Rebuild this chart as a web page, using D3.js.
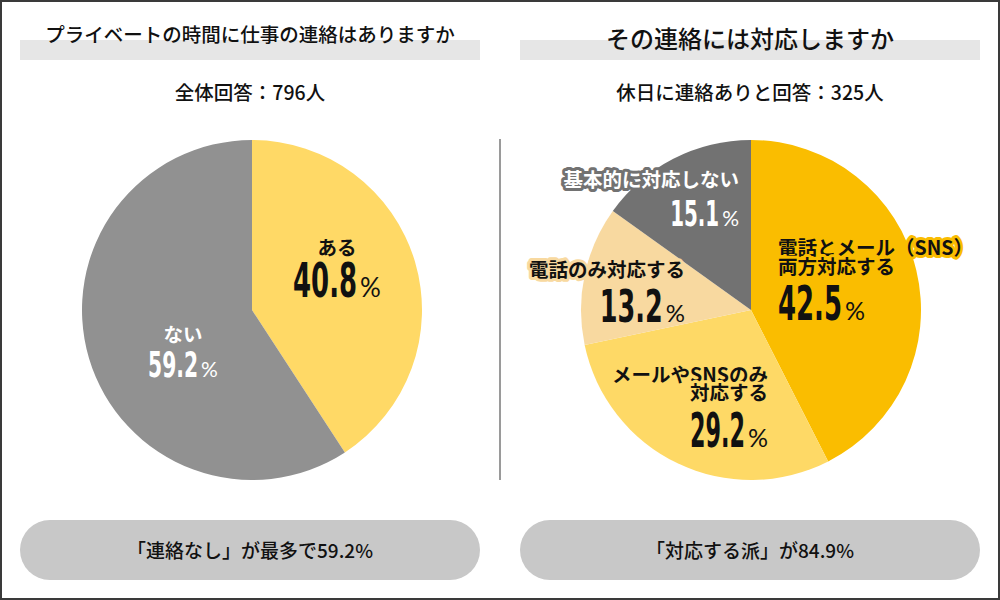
<!DOCTYPE html>
<html><head><meta charset="utf-8">
<script src="https://cdn.jsdelivr.net/npm/d3@7"></script>
<style>body{margin:0;background:#fff}svg{display:block}</style>
</head><body>
<svg id="chart" width="1000" height="600"></svg>
<script>
// ---------- data ----------
const leftTitle = "プライベートの時間に仕事の連絡はありますか";
const leftSubtitle = "全体回答：796人";
const leftCategories = ["ある", "ない"];
const leftLabelLines = [["ある"], ["ない"]];
const leftValues = [40.8, 59.2];
const leftSummary = "「連絡なし」が最多で59.2%";

const rightTitle = "その連絡には対応しますか";
const rightSubtitle = "休日に連絡ありと回答：325人";
const rightCategories = ["電話とメール（SNS）両方対応する", "メールやSNSのみ対応する", "電話のみ対応する", "基本的に対応しない"];
const rightLabelLines = [["電話とメール（SNS）", "両方対応する"], ["メールやSNSのみ", "対応する"], ["電話のみ対応する"], ["基本的に対応しない"]];
const rightValues = [42.5, 29.2, 13.2, 15.1];
const rightSummary = "「対応する派」が84.9%";

// ---------- styles / layout ----------
const leftColors = ["#FFD966", "#919191"];
const rightColors = ["#FABD00", "#FED966", "#F8D9A0", "#727272"];
const JP = "'Noto Sans CJK JP','Noto Sans JP',sans-serif";
const NUM = "'Liberation Sans Narrow','DejaVu Sans Condensed','Roboto',sans-serif";
const PCT = "'Lato','Noto Sans',sans-serif";

const leftLayout = [
  {anchor: "middle", dx: 85, lineDy: [-55], numDy: -13, numSize: 48, numW: 64, pctSize: 26, fill: "#111", halo: false},
  {anchor: "middle", dx: -69, lineDy: [32], numDy: 67, numSize: 35, numW: 50, pctSize: 21, fill: "#fff", halo: false}
];
const rightLayout = [
  {anchor: "start", dx: 27, lineDy: [-55, -36], numDy: 10, numSize: 48, numW: 64, pctSize: 25, fill: "#111", halo: true},
  {anchor: "end", dx: 17, lineDy: [72, 90], numDy: 137, numSize: 48, numW: 55, pctSize: 25, fill: "#111", halo: true},
  {anchor: "end", dx: -66, lineDy: [-33], numDy: 12, numSize: 44, numW: 63, pctSize: 24, fill: "#111", halo: true},
  {anchor: "end", dx: -12, lineDy: [-123], numDy: -84, numSize: 36, numW: 49, pctSize: 21, fill: "#fff", halo: true}
];

const svg = d3.select("#chart");
const R = 170;

// outer border
svg.append("rect").attr("x", 1).attr("y", 1).attr("width", 998).attr("height", 598)
  .attr("fill", "#fff").attr("stroke", "#3a3a3a").attr("stroke-width", 2);

function panel(cx, title, titleSize, titleY, subtitle, summary) {
  svg.append("rect").attr("x", cx - 230).attr("y", 40).attr("width", 460).attr("height", 20).attr("fill", "#e6e6e6");
  svg.append("text").attr("x", cx).attr("y", titleY).attr("text-anchor", "middle")
    .attr("font-family", JP).attr("font-weight", 500).attr("font-size", titleSize).attr("fill", "#111").text(title);
  svg.append("text").attr("x", cx).attr("y", 100).attr("text-anchor", "middle")
    .attr("font-family", JP).attr("font-weight", 500).attr("font-size", 19.5).attr("fill", "#111").text(subtitle);
  svg.append("rect").attr("x", cx - 230).attr("y", 520).attr("width", 460).attr("height", 60)
    .attr("rx", 30).attr("ry", 30).attr("fill", "#c8c8c8");
  svg.append("text").attr("x", cx).attr("y", 558).attr("text-anchor", "middle")
    .attr("font-family", JP).attr("font-weight", 500).attr("font-size", 19).attr("fill", "#111").text(summary);
}

function pieChart(cx, cy, categories, values, colors, lines, layout) {
  const g = svg.append("g").attr("transform", `translate(${cx},${cy})`);
  const pie = d3.pie().sort(null).value(d => d.v);
  const arcs = pie(values.map((v, i) => ({v, c: categories[i], i})));
  const arc = d3.arc().innerRadius(0).outerRadius(R);
  g.selectAll("path.slice").data(arcs).join("path").attr("class", "slice")
    .attr("d", arc).attr("fill", d => colors[d.data.i]);

  arcs.forEach((d, i) => {
    const L = layout[i];
    const col = colors[i];
    lines[i].forEach((ln, k) => {
      const t = g.append("text").attr("x", L.dx).attr("y", L.lineDy[k]).attr("text-anchor", L.anchor)
        .attr("font-family", JP).attr("font-weight", 700).attr("font-size", 19.5).attr("fill", L.fill).text(ln);
      if (L.halo) t.attr("stroke", col).attr("stroke-width", 6).attr("stroke-linejoin", "round").attr("paint-order", "stroke");
    });
    // number + %
    const pct = g.append("text").attr("font-family", PCT).attr("font-weight", 400)
      .attr("font-size", L.pctSize).attr("fill", L.fill).attr("y", L.numDy).text("%");
    const pw = pct.node().getComputedTextLength();
    const gap = 3;
    const total = L.numW + gap + pw;
    let x0;
    if (L.anchor === "start") x0 = L.dx;
    else if (L.anchor === "end") x0 = L.dx - total;
    else x0 = L.dx - total / 2;
    const num = g.append("text").attr("x", 0).attr("y", 0).attr("font-family", NUM).attr("font-weight", 700)
      .attr("font-size", L.numSize).attr("fill", L.fill)
      .text(d3.format(".1f")(d.data.v));
    const nw = num.node().getComputedTextLength();
    const s = L.numW / nw;
    num.attr("transform", `translate(${x0},${L.numDy}) scale(${s},1)`);
    pct.attr("x", x0 + L.numW + gap);
  });
}

panel(250, leftTitle, 19.5, 42, leftSubtitle, leftSummary);
panel(750, rightTitle, 24, 48, rightSubtitle, rightSummary);

// divider
svg.append("line").attr("x1", 500).attr("x2", 500).attr("y1", 139).attr("y2", 480)
  .attr("stroke", "#9a9a9a").attr("stroke-width", 2);

pieChart(252, 310, leftCategories, leftValues, leftColors, leftLabelLines, leftLayout);
pieChart(751, 310, rightCategories, rightValues, rightColors, rightLabelLines, rightLayout);
</script>
</body></html>
